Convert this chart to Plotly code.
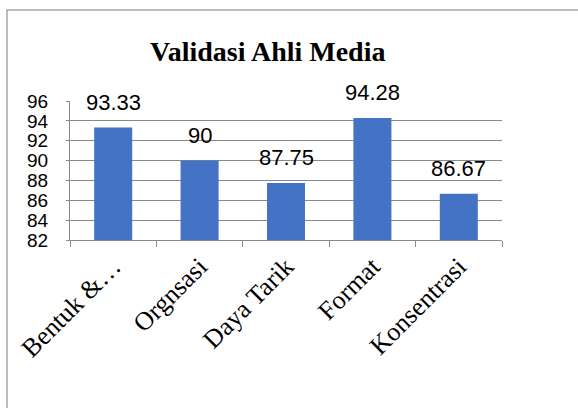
import plotly.graph_objects as go

categories = ["Bentuk &…", "Orgnsasi", "Daya Tarik", "Format", "Konsentrasi"]
values = [93.33, 90, 87.75, 94.28, 86.67]
value_labels = ["93.33", "90", "87.75", "94.28", "86.67"]
y_ticks = [82, 84, 86, 88, 90, 92, 94, 96]

W, H = 578, 408
L, R, T, B = 70, 76, 101, 168
pw, ph = W - L - R, H - T - B

fig = go.Figure()
fig.add_trace(go.Bar(x=categories, y=values, marker=dict(color="#4472C4", line=dict(width=0)),
                     hoverinfo="skip"))

for c, v, t in zip(categories, values, value_labels):
    fig.add_annotation(x=c, y=v, text=t, showarrow=False, yanchor="bottom", yshift=11,
                       font=dict(family="Liberation Sans, Arial", size=22, color="#000000"))

fig.add_annotation(xref="paper", yref="paper", x=(267.5 - L) / pw, y=(H - B - 52) / ph,
                   xanchor="center", yanchor="middle", showarrow=False,
                   text="<b>Validasi Ahli Media</b>",
                   font=dict(family="Liberation Serif, Times New Roman", size=28, color="#000000"))

# chart area border
fig.add_shape(type="rect", xref="paper", yref="paper",
              x0=(7 - L) / pw, x1=(600 - L) / pw,
              y0=(H - B - 430) / ph, y1=(H - B - 10) / ph,
              line=dict(color="#A6A6A6", width=1.5), fillcolor="rgba(0,0,0,0)", layer="below")

fig.update_layout(
    width=W, height=H,
    margin=dict(l=L, r=R, t=T, b=B, pad=0, autoexpand=False),
    paper_bgcolor="white", plot_bgcolor="white",
    showlegend=False, bargap=0.56,
    xaxis=dict(tickangle=-45, tickfont=dict(family="Liberation Serif, Times New Roman", size=26, color="#000"),
               showline=True, linecolor="#898989", linewidth=1, ticks="outside", tickson="boundaries",
               ticklen=6, tickcolor="#898989", showgrid=False, fixedrange=True, automargin=False),
    yaxis=dict(range=[82, 96], tickvals=y_ticks, ticktext=[str(v) for v in y_ticks],
               tickfont=dict(family="Liberation Sans, Arial", size=19, color="#000"),
               showline=True, linecolor="#898989", linewidth=1, ticks="outside", ticklen=3,
               tickcolor="#898989", showgrid=True, gridcolor="#898989", gridwidth=1,
               zeroline=False, ticklabelstandoff=14, fixedrange=True, automargin=False),
)

fig.write_html("out.html", config={"displayModeBar": False},
               post_script="document.body.style.margin='0';document.body.style.overflow='hidden';")
